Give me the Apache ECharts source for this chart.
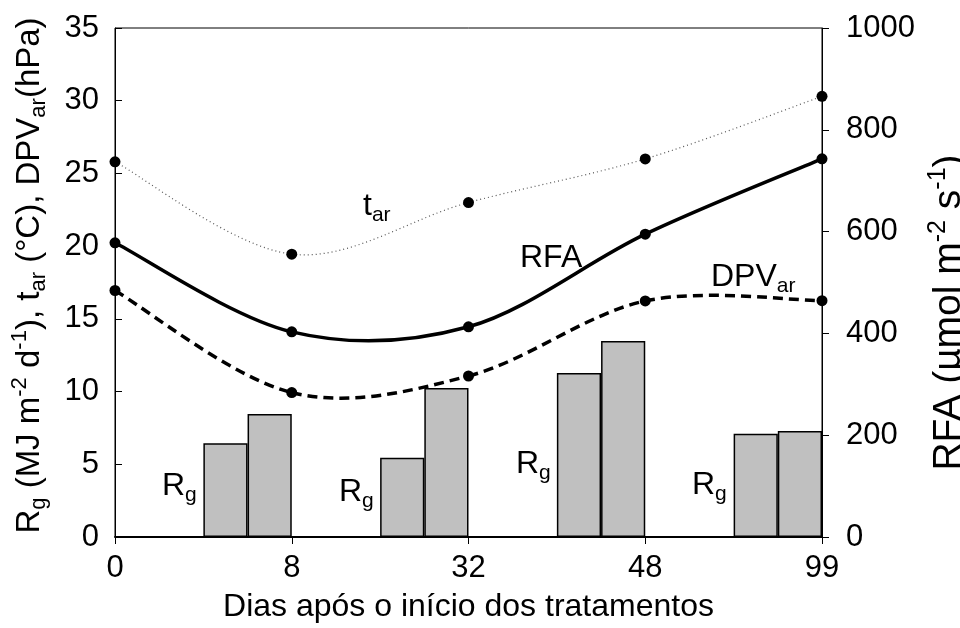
<!DOCTYPE html>
<html>
<head>
<meta charset="utf-8">
<script src="https://cdn.jsdelivr.net/npm/echarts@6/dist/echarts.min.js"></script>
<style>
  html, body { margin: 0; padding: 0; background: #fff; }
  #chart { width: 960px; height: 628px; }
</style>
</head>
<body>
<div id="chart"></div>
<script>
// Days after the start of the treatments
const days = ['0', '8', '32', '48', '99'];
// Air temperature (°C)
const tAr = [25.8, 19.45, 23.0, 26.0, 30.3];
// Photosynthetically active radiation (µmol m-2 s-1), right axis
const rfa = [578, 403, 413, 595, 743];
// Air vapour pressure deficit (hPa)
const dpvAr = [16.95, 9.93, 11.07, 16.23, 16.25];
// Global radiation (MJ m-2 d-1): two daily values per period
const rgFirst = [6.44, 5.45, 11.28, 7.10];
const rgSecond = [8.46, 10.25, 13.48, 7.29];

const FONT = 'Liberation Sans';

// Each period is split into four slots; the bars fill the last two.
const barSlots = [];
const barData = [];
for (let k = 0; k < rgFirst.length; k++) {
  barSlots.push('a' + k, 'b' + k, 'c' + k, 'd' + k);
  barData.push('-', '-', rgFirst[k], rgSecond[k]);
}

function richSet(main, small) {
  return {
    m: { fontSize: main, fontFamily: FONT, color: '#000', lineHeight: main + 8 },
    sub: { fontSize: small, fontFamily: FONT, color: '#000', lineHeight: small + 2, verticalAlign: 'bottom' },
    sup: { fontSize: small, fontFamily: FONT, color: '#000', lineHeight: small + 2, verticalAlign: 'top' }
  };
}
const rich = richSet(32, 21);
const richLeftTitle = richSet(33, 22);
const richRightTitle = richSet(39, 25);

// Smoothed curve through the series points (Catmull-Rom segments as cubic Béziers),
// positioned with the grid's own axes via api.coord.
function curveSeries(name, values, yAxisIndex, stroke, width, dash) {
  return {
    name: name, type: 'custom', xAxisIndex: 0, yAxisIndex: yAxisIndex,
    data: values.map(function (v, i) { return [i, v]; }),
    z: 3, silent: true,
    renderItem: function (params, api) {
      if (params.dataIndex !== 0) return null;
      const pts = values.map(function (v, i) { return api.coord([i, v]); });
      const children = [];
      for (let i = 0; i < pts.length - 1; i++) {
        const p0 = pts[i - 1] || pts[i];
        const p1 = pts[i];
        const p2 = pts[i + 1];
        const p3 = pts[i + 2] || pts[i + 1];
        children.push({
          type: 'bezierCurve',
          shape: {
            x1: p1[0], y1: p1[1], x2: p2[0], y2: p2[1],
            cpx1: p1[0] + (p2[0] - p0[0]) / 6, cpy1: p1[1] + (p2[1] - p0[1]) / 6,
            cpx2: p2[0] - (p3[0] - p1[0]) / 6, cpy2: p2[1] - (p3[1] - p1[1]) / 6
          },
          style: { fill: null, stroke: stroke, lineWidth: width, lineDash: dash || null }
        });
      }
      return { type: 'group', children: children };
    }
  };
}

function pointSeries(name, values, yAxisIndex) {
  return {
    name: name, type: 'scatter', xAxisIndex: 0, yAxisIndex: yAxisIndex,
    data: values, symbol: 'circle', symbolSize: 11,
    itemStyle: { color: '#000', opacity: 1 }, z: 4, silent: true
  };
}

function textLabel(left, top, parts) {
  return {
    type: 'text', left: left, top: top, z: 50,
    style: { text: parts, rich: rich, fill: '#000' }
  };
}

const chart = echarts.init(document.getElementById('chart'), null, { renderer: 'canvas' });

chart.setOption({
  animation: false,
  backgroundColor: '#fff',
  grid: {
    left: 115, right: 138, top: 28, bottom: 91,
    outerBoundsMode: 'none', containLabel: false,
    show: true, borderColor: '#000', borderWidth: 1
  },
  xAxis: [
    {
      type: 'category', data: days, boundaryGap: false,
      name: 'Dias após o início dos tratamentos',
      nameLocation: 'middle', nameGap: 54,
      nameTextStyle: { fontSize: 32, fontFamily: FONT, color: '#000' },
      axisLine: { lineStyle: { color: '#000', width: 2 } },
      axisTick: { show: true, length: 7, lineStyle: { color: '#000', width: 1 } },
      axisLabel: { fontSize: 31, fontFamily: FONT, color: '#000', margin: 16 },
      splitLine: { show: false }
    },
    {
      type: 'category', data: barSlots, boundaryGap: true, show: false,
      gridIndex: 0
    }
  ],
  yAxis: [
    {
      type: 'value', min: 0, max: 35, interval: 5, position: 'left',
      name: '{m|R}{sub|g}{m| (MJ m}{sup|-2}{m| d}{sup|-1}{m|), t}{sub|ar}{m| (°C), DPV}{sub|ar}{m|(hPa)}',
      nameLocation: 'middle', nameGap: 65, nameRotate: 90,
      nameTextStyle: { rich: richLeftTitle, padding: [0, 0, 0, 14] },
      axisLine: { show: true, lineStyle: { color: '#000', width: 1 } },
      axisTick: { show: true, inside: true, length: 7, lineStyle: { color: '#000' } },
      axisLabel: { fontSize: 31, fontFamily: FONT, color: '#000', margin: 16 },
      splitLine: { show: false }
    },
    {
      type: 'value', min: 0, max: 1000, interval: 200, position: 'right',
      name: '{m|RFA (µmol m}{sup|-2}{m| s}{sup|-1}{m|)}',
      nameLocation: 'middle', nameGap: 81, nameRotate: 90,
      nameTextStyle: { rich: richRightTitle, padding: [0, 60, 0, 0] },
      axisLine: { show: true, lineStyle: { color: '#000', width: 1 } },
      axisTick: { show: true, inside: false, length: 7, lineStyle: { color: '#000' } },
      axisLabel: {
        fontSize: 31, fontFamily: FONT, color: '#000', margin: 24,
        formatter: function (v) { return String(v); }
      },
      splitLine: { show: false }
    }
  ],
  series: [
    {
      name: 'Rg', type: 'bar', xAxisIndex: 1, yAxisIndex: 0,
      data: barData, barCategoryGap: '0%', barWidth: '100%',
      itemStyle: { color: '#c0c0c0', borderColor: '#000', borderWidth: 1.5 },
      z: 1
    },
    curveSeries('tar', tAr, 0, '#555', 1.2, [1, 3]),
    curveSeries('RFA', rfa, 1, '#000', 3.5, null),
    curveSeries('DPVar', dpvAr, 0, '#000', 3.5, [10, 6]),
    pointSeries('tar points', tAr, 0),
    pointSeries('RFA points', rfa, 1),
    pointSeries('DPVar points', dpvAr, 0)
  ],
  graphic: [
    textLabel(363, 190, '{m|t}{sub|ar}'),
    textLabel(520, 242, '{m|RFA}'),
    textLabel(711, 261, '{m|DPV}{sub|ar}'),
    textLabel(162, 470, '{m|R}{sub|g}'),
    textLabel(339, 476, '{m|R}{sub|g}'),
    textLabel(516, 448, '{m|R}{sub|g}'),
    textLabel(692, 469, '{m|R}{sub|g}')
  ]
});
</script>
</body>
</html>
